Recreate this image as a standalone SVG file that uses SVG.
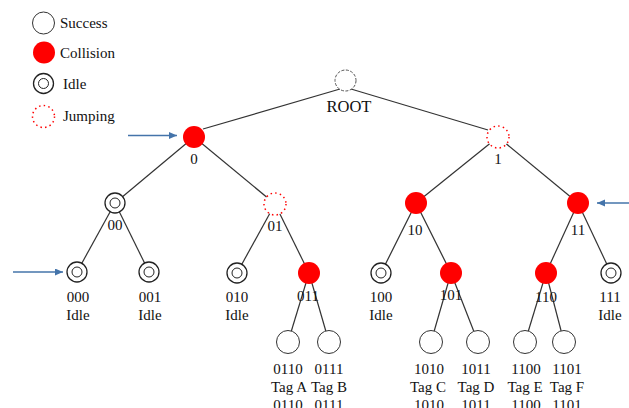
<svg xmlns="http://www.w3.org/2000/svg" width="629" height="408" viewBox="0 0 629 408">
<defs>
<style>
text{font-family:"Liberation Serif","Times New Roman",serif;font-size:15px;fill:#111;}
.c{text-anchor:middle;}
.edge{stroke:#333;stroke-width:1.2;fill:none;}
.succ{fill:#fff;stroke:#333;stroke-width:1;}
.coll{fill:#ff0000;stroke:none;}
.idle{fill:#fff;stroke:#222;stroke-width:1.3;}
.idlein{fill:#fff;stroke:#222;stroke-width:1;}
.jump{fill:#fff;stroke:#ff0000;stroke-width:1.5;stroke-dasharray:1.5 3.2;}
.rootc{fill:#fff;stroke:#555;stroke-width:1;stroke-dasharray:3 1.5;}
.arrow{stroke:#4474AA;stroke-width:1.5;fill:none;marker-end:url(#ah);}
</style>
<marker id="ah" markerUnits="userSpaceOnUse" markerWidth="9" markerHeight="8" refX="8" refY="3.5" orient="auto">
<path d="M0,0 L8,3.5 L0,7 z" fill="#4474AA"/>
</marker>
</defs>
<rect width="629" height="408" fill="#fff"/>

<g id="legend">
<circle cx="43.5" cy="23" r="11" class="succ"/>
<text x="60" y="28">Success</text>
<circle cx="44" cy="52.5" r="11" class="coll"/>
<text x="60" y="58">Collision</text>
<circle cx="43.5" cy="83.5" r="10" class="idle"/>
<circle cx="43.5" cy="83.5" r="5" class="idlein"/>
<text x="63" y="89">Idle</text>
<circle cx="43.5" cy="116.5" r="11" class="jump"/>
<text x="63" y="121">Jumping</text>
</g>

<g id="connectors">
<line class="edge" x1="340" y1="89" x2="203" y2="129"/>
<line class="edge" x1="351" y1="89" x2="488" y2="130"/>
<line class="edge" x1="194" y1="137" x2="115" y2="203"/>
<line class="edge" x1="194" y1="137" x2="275" y2="204"/>
<line class="edge" x1="498" y1="137" x2="416" y2="203"/>
<line class="edge" x1="498" y1="137" x2="578" y2="203"/>
<line class="edge" x1="115" y1="203" x2="77" y2="272"/>
<line class="edge" x1="115" y1="203" x2="149" y2="272"/>
<line class="edge" x1="275" y1="204" x2="237" y2="273"/>
<line class="edge" x1="275" y1="204" x2="309" y2="273"/>
<line class="edge" x1="416" y1="203" x2="381" y2="273"/>
<line class="edge" x1="416" y1="203" x2="451" y2="273"/>
<line class="edge" x1="578" y1="203" x2="546" y2="273"/>
<line class="edge" x1="578" y1="203" x2="611" y2="273"/>
<line class="edge" x1="309" y1="273" x2="288" y2="342"/>
<line class="edge" x1="309" y1="273" x2="329" y2="342"/>
<line class="edge" x1="451" y1="273" x2="431" y2="342"/>
<line class="edge" x1="451" y1="273" x2="478" y2="342"/>
<line class="edge" x1="546" y1="273" x2="525" y2="342"/>
<line class="edge" x1="546" y1="273" x2="564" y2="342"/>
<line class="arrow" x1="128" y1="135.5" x2="177" y2="135.5"/>
<line class="arrow" x1="629" y1="203" x2="597" y2="203"/>
<line class="arrow" x1="13" y1="272" x2="63" y2="272"/>
</g>

<g id="root">
<circle cx="345.5" cy="80.5" r="10.5" class="rootc"/>
<text x="349" y="112" class="c" style="font-size:16.5px">ROOT</text>
</g>
<g id="n0">
<circle cx="194" cy="137" r="11" class="coll"/>
<text x="194" y="164" class="c">0</text>
</g>
<g id="n1">
<circle cx="498" cy="137" r="11" class="jump"/>
<text x="498" y="164" class="c">1</text>
</g>
<g id="n00">
<circle cx="115" cy="203" r="10" class="idle"/>
<circle cx="115" cy="203" r="5" class="idlein"/>
<text x="115" y="230" class="c">00</text>
</g>
<g id="n01">
<circle cx="275" cy="204" r="11" class="jump"/>
<text x="275" y="231" class="c">01</text>
</g>
<g id="n10">
<circle cx="416" cy="203" r="11" class="coll"/>
<text x="415" y="235" class="c">10</text>
</g>
<g id="n11">
<circle cx="578" cy="203" r="11" class="coll"/>
<text x="578" y="235" class="c">11</text>
</g>
<g id="n000">
<circle cx="77" cy="272" r="10" class="idle"/>
<circle cx="77" cy="272" r="5" class="idlein"/>
<text x="78" y="302" class="c">000</text>
<text x="78" y="320" class="c">Idle</text>
</g>
<g id="n001">
<circle cx="149" cy="272" r="10" class="idle"/>
<circle cx="149" cy="272" r="5" class="idlein"/>
<text x="150" y="302" class="c">001</text>
<text x="150" y="320" class="c">Idle</text>
</g>
<g id="n010">
<circle cx="237" cy="273" r="10" class="idle"/>
<circle cx="237" cy="273" r="5" class="idlein"/>
<text x="237" y="302" class="c">010</text>
<text x="237" y="320" class="c">Idle</text>
</g>
<g id="n011">
<circle cx="309" cy="273" r="11" class="coll"/>
<text x="308" y="301" class="c">011</text>
</g>
<g id="n100">
<circle cx="381" cy="273" r="10" class="idle"/>
<circle cx="381" cy="273" r="5" class="idlein"/>
<text x="381" y="302" class="c">100</text>
<text x="381" y="320" class="c">Idle</text>
</g>
<g id="n101">
<circle cx="451" cy="273" r="11" class="coll"/>
<text x="451" y="300" class="c">101</text>
</g>
<g id="n110">
<circle cx="546" cy="273" r="11" class="coll"/>
<text x="546" y="302" class="c">110</text>
</g>
<g id="n111">
<circle cx="611" cy="273" r="10" class="idle"/>
<circle cx="611" cy="273" r="5" class="idlein"/>
<text x="610" y="302" class="c">111</text>
<text x="610" y="320" class="c">Idle</text>
</g>
<g id="n0110">
<circle cx="288" cy="342" r="11.5" class="succ"/>
<text x="288" y="374" class="c">0110</text>
<text x="289" y="392" class="c">Tag A</text>
<text x="288" y="410" class="c">0110</text>
</g>
<g id="n0111">
<circle cx="329" cy="342" r="11.5" class="succ"/>
<text x="329" y="374" class="c">0111</text>
<text x="329" y="392" class="c">Tag B</text>
<text x="329" y="410" class="c">0111</text>
</g>
<g id="n1010">
<circle cx="431" cy="342" r="11.5" class="succ"/>
<text x="429" y="374" class="c">1010</text>
<text x="428" y="392" class="c">Tag C</text>
<text x="429" y="410" class="c">1010</text>
</g>
<g id="n1011">
<circle cx="478" cy="342" r="11.5" class="succ"/>
<text x="476" y="374" class="c">1011</text>
<text x="476" y="392" class="c">Tag D</text>
<text x="476" y="410" class="c">1011</text>
</g>
<g id="n1100">
<circle cx="525" cy="342" r="11.5" class="succ"/>
<text x="526" y="374" class="c">1100</text>
<text x="525" y="392" class="c">Tag E</text>
<text x="526" y="410" class="c">1100</text>
</g>
<g id="n1101">
<circle cx="564" cy="342" r="11.5" class="succ"/>
<text x="567" y="374" class="c">1101</text>
<text x="567" y="392" class="c">Tag F</text>
<text x="567" y="410" class="c">1101</text>
</g>
</svg>
